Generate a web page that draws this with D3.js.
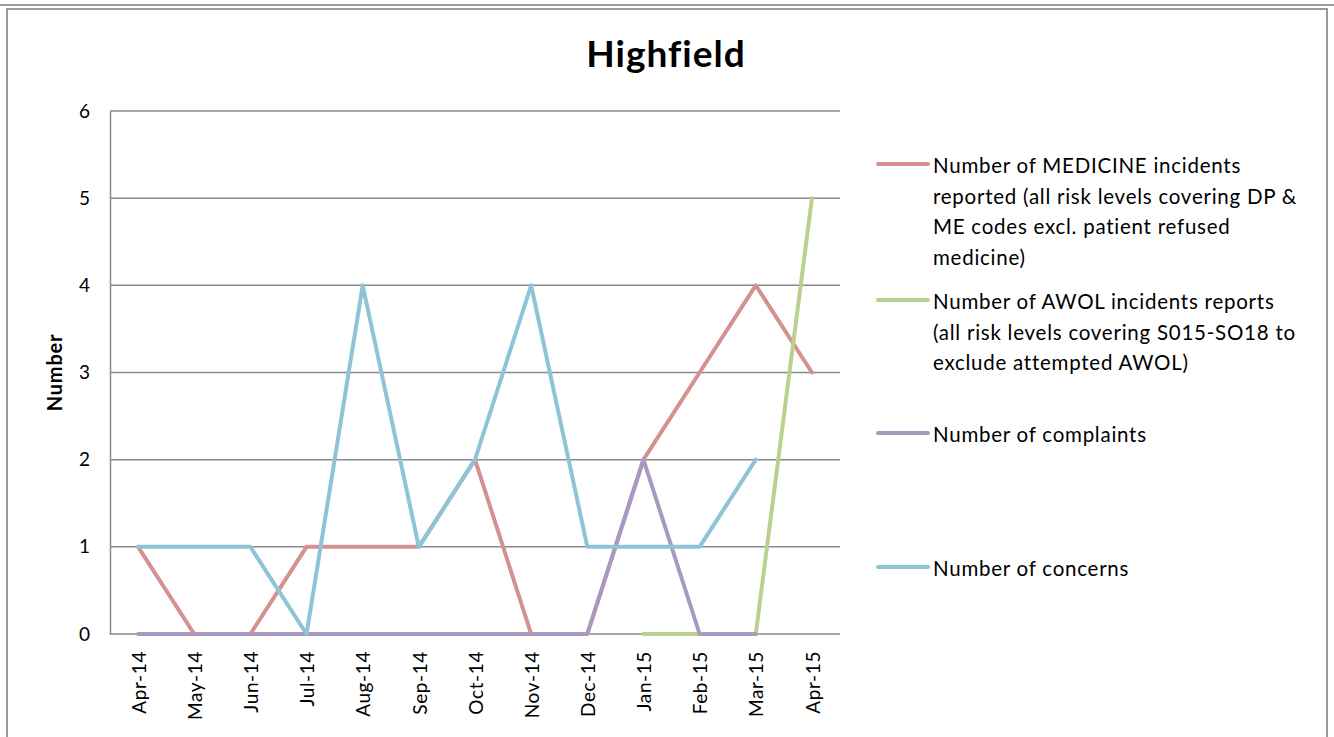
<!DOCTYPE html>
<html>
<head>
<meta charset="utf-8">
<script src="https://cdn.jsdelivr.net/npm/d3@7/dist/d3.min.js"></script>
<style>
  html, body { margin: 0; padding: 0; background: #fff; }
  svg { display: block; }
  text { font-family: Lato, "Open Sans", sans-serif; fill: #000; font-variant-ligatures: none; }
</style>
</head>
<body>
<svg id="chart" width="1334" height="737"></svg>
<script>
const categories = ["Apr-14","May-14","Jun-14","Jul-14","Aug-14","Sep-14","Oct-14","Nov-14","Dec-14","Jan-15","Feb-15","Mar-15","Apr-15"];
const medicine   = [1, 0, 0, 1, 1, 1, 2, 0, 0, 2, 3, 4, 3];
const awol       = [null, null, null, null, null, null, null, null, null, 0, 0, 0, 5];
const complaints = [0, 0, 0, 0, 0, 0, 0, 0, 0, 2, 0, 0, null];
const concerns   = [1, 1, 1, 0, 4, 1, 2, 4, 1, 1, 1, 2, null];
const yTicks = [0, 1, 2, 3, 4, 5, 6];
const seriesNames = [
  ["Number of MEDICINE incidents", "reported (all risk levels covering DP &", "ME codes excl. patient refused", "medicine)"],
  ["Number of AWOL incidents reports", "(all risk levels covering S015-SO18 to", "exclude attempted AWOL)"],
  ["Number of complaints"],
  ["Number of concerns"]
];
const seriesColors = ["#D5918F", "#B9D08F", "#A999C0", "#8EC4D6"];
const seriesValues = [medicine, awol, complaints, concerns];
const chartTitle = "Highfield";
const yTitle = "Number";

const svg = d3.select("#chart");

// outer frames
svg.append("line").attr("x1", 0).attr("x2", 1334).attr("y1", 5).attr("y2", 5)
  .attr("stroke", "#9a9a9a").attr("stroke-width", 2);
svg.append("rect").attr("x", 7).attr("y", 9).attr("width", 1320).attr("height", 740)
  .attr("fill", "none").attr("stroke", "#9a9a9a").attr("stroke-width", 2);

const plot = { left: 110, right: 840, top: 111, bottom: 634 };

const x = d3.scaleBand().domain(categories).range([plot.left, plot.right]);
const y = d3.scaleLinear().domain([0, 6]).range([plot.bottom, plot.top]);

// gridlines
svg.append("g").selectAll("line").data(yTicks).join("line")
  .attr("x1", plot.left).attr("x2", plot.right)
  .attr("y1", d => y(d)).attr("y2", d => y(d))
  .attr("stroke", "#8a8a8a").attr("stroke-width", 1.5);

// y axis
const yAxis = svg.append("g").attr("transform", `translate(${plot.left},0)`)
  .call(d3.axisLeft(y).tickValues(yTicks).tickSize(0).tickPadding(20).tickFormat(d3.format("d")));
yAxis.select(".domain").attr("stroke", "#8a8a8a").attr("stroke-width", 1.5);
yAxis.selectAll("text").style("font-size", "19px").style("font-family", "Lato, sans-serif");

// x axis
const xAxis = svg.append("g").attr("transform", `translate(0,${plot.bottom})`)
  .call(d3.axisBottom(x).tickSize(0).tickPadding(0));
xAxis.select(".domain").remove();
xAxis.selectAll("text")
  .style("font-size", "19px").style("font-family", "Lato, sans-serif")
  .style("letter-spacing", "0.6px")
  .attr("text-anchor", "end")
  .attr("transform", "translate(1,17) rotate(-90)")
  .attr("dx", 0).attr("dy", "0.35em").attr("y", 0).attr("x", 0);

// lines
const line = d3.line()
  .defined(d => d.v !== null)
  .x(d => x(d.c) + x.bandwidth() / 2)
  .y(d => y(d.v));

seriesValues.forEach((vals, i) => {
  const data = categories.map((c, j) => ({ c, v: vals[j] }));
  svg.append("path").datum(data)
    .attr("fill", "none")
    .attr("stroke", seriesColors[i])
    .attr("stroke-width", 4)
    .attr("stroke-linejoin", "round")
    .attr("stroke-linecap", "round")
    .attr("d", line);
});

// title
svg.append("text").attr("x", 666).attr("y", 67).attr("text-anchor", "middle")
  .style("font-size", "37px").style("font-weight", "bold").style("letter-spacing", "1px").text(chartTitle);

// y title
svg.append("text").attr("transform", `translate(62,${(plot.top + plot.bottom) / 2}) rotate(-90)`)
  .attr("text-anchor", "middle").style("font-size", "20px").style("font-weight", "bold")
  .style("letter-spacing", "0.8px").text(yTitle);

// legend
const legendSymbolY = [164, 300, 433, 567];
const lineGap = 30.5;
const legend = svg.append("g");
seriesNames.forEach((lines, i) => {
  const g = legend.append("g");
  g.append("line").attr("x1", 878).attr("x2", 928)
    .attr("y1", legendSymbolY[i]).attr("y2", legendSymbolY[i])
    .attr("stroke", seriesColors[i]).attr("stroke-width", 4).attr("stroke-linecap", "round");
  g.selectAll("text").data(lines).join("text")
    .attr("x", 933)
    .attr("y", (d, k) => legendSymbolY[i] + 9 + k * lineGap)
    .style("font-size", "20.5px")
    .style("letter-spacing", "0.75px")
    .text(d => d);
});
</script>
</body>
</html>
